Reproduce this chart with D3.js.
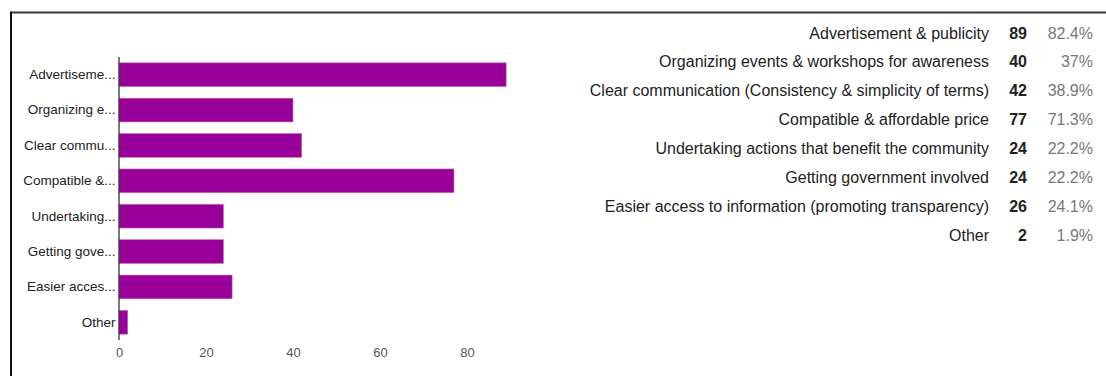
<!DOCTYPE html>
<html>
<head>
<meta charset="utf-8">
<script src="https://cdn.jsdelivr.net/npm/d3@7"></script>
<style>
  html, body { margin: 0; padding: 0; background: #fff; }
  svg { display: block; font-family: "Liberation Sans", Arial, sans-serif; }
</style>
</head>
<body>
<svg id="chart" width="1106" height="376"></svg>
<script>
// Survey responses: what would encourage adoption
const categories = [
  "Advertisement & publicity",
  "Organizing events & workshops for awareness",
  "Clear communication (Consistency & simplicity of terms)",
  "Compatible & affordable price",
  "Undertaking actions that benefit the community",
  "Getting government involved",
  "Easier access to information (promoting transparency)",
  "Other"
];
const shortLabels = [
  "Advertiseme...", "Organizing e...", "Clear commu...", "Compatible &...",
  "Undertaking...", "Getting gove...", "Easier acces...", "Other"
];
const counts = [89, 40, 42, 77, 24, 24, 26, 2];
const percents = ["82.4%", "37%", "38.9%", "71.3%", "22.2%", "22.2%", "24.1%", "1.9%"];
const xTicks = [0, 20, 40, 60, 80];

const svg = d3.select("#chart");

// frame
svg.append("line").attr("x1", 11).attr("x2", 1106).attr("y1", 12.5).attr("y2", 12.5)
  .attr("stroke", "#3a3a3a").attr("stroke-width", 2);
svg.append("line").attr("x1", 11).attr("x2", 11).attr("y1", 11.5).attr("y2", 376)
  .attr("stroke", "#111").attr("stroke-width", 2);

// bar chart
const x = d3.scaleLinear().domain([0, 100]).range([119, 554]);
const y = d3.scaleBand().domain(d3.range(categories.length)).range([57, 340])
  .paddingInner(0.33).paddingOuter(0.165);

const g = svg.append("g");

g.selectAll("rect.bar").data(counts).join("rect")
  .attr("class", "bar")
  .attr("x", x(0))
  .attr("y", (d, i) => y(i))
  .attr("width", d => x(d) - x(0))
  .attr("height", y.bandwidth())
  .attr("fill", "#990099")
  .attr("stroke", "#c266c2").attr("stroke-width", 0.6);

// vertical baseline
g.append("line").attr("x1", x(0)).attr("x2", x(0)).attr("y1", 57).attr("y2", 340)
  .attr("stroke", "#333").attr("stroke-width", 1.3);

// category labels
const yAxis = d3.axisLeft(y).tickSize(0).tickPadding(3).tickFormat(i => shortLabels[i]);
const ya = svg.append("g").attr("transform", `translate(${x(0) - 0.5},0)`).call(yAxis);
ya.select(".domain").remove();
ya.selectAll("text").attr("font-size", 13.5).attr("fill", "#222")
  .attr("font-family", "Liberation Sans, Arial, sans-serif");

// value axis labels
const xAxis = d3.axisBottom(x).tickValues(xTicks).tickSize(0).tickPadding(8);
const xa = svg.append("g").attr("transform", "translate(0,340)").call(xAxis);
xa.select(".domain").remove();
xa.selectAll("text").attr("font-size", 13).attr("fill", "#555")
  .attr("font-family", "Liberation Sans, Arial, sans-serif");

// summary table
const rowY = d3.scalePoint().domain(d3.range(categories.length)).range([33, 235]);
const table = svg.append("g").attr("font-size", 16)
  .attr("font-family", "Liberation Sans, Arial, sans-serif");

table.selectAll("text.cat").data(categories).join("text")
  .attr("class", "cat")
  .attr("x", 989).attr("y", (d, i) => rowY(i)).attr("dy", "0.35em")
  .attr("text-anchor", "end").attr("fill", "#222").text(d => d);

table.selectAll("text.cnt").data(counts).join("text")
  .attr("class", "cnt")
  .attr("x", 1027).attr("y", (d, i) => rowY(i)).attr("dy", "0.35em")
  .attr("text-anchor", "end").attr("font-weight", "bold").attr("fill", "#222").text(d => d);

table.selectAll("text.pct").data(percents).join("text")
  .attr("class", "pct")
  .attr("x", 1093).attr("y", (d, i) => rowY(i)).attr("dy", "0.35em")
  .attr("text-anchor", "end").attr("fill", "#777").text(d => d);
</script>
</body>
</html>
